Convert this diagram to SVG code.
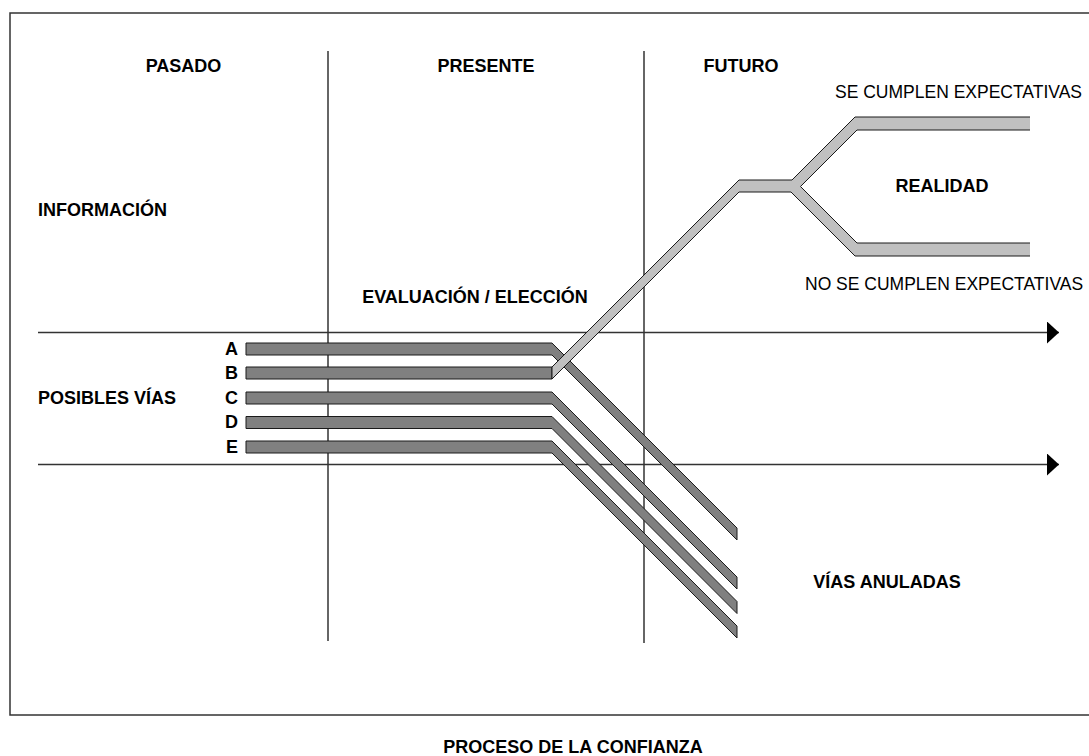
<svg xmlns="http://www.w3.org/2000/svg" width="1089" height="756" viewBox="0 0 1089 756">
<defs>
<style>
.b{font-family:"Liberation Sans",Arial,sans-serif;font-weight:bold;font-size:18px;fill:#000}
.r{font-family:"Liberation Sans",Arial,sans-serif;font-size:17.5px;fill:#000}
.ln{stroke:#333;stroke-width:1.5;fill:none}
.dk{fill:#808080;stroke:#1a1a1a;stroke-width:1}
.lt{fill:#c0c0c0;stroke:none}
.ltl{fill:none;stroke:#1a1a1a;stroke-width:1}
</style>
<marker id="ah" viewBox="0 0 12 22" refX="12" refY="11" markerWidth="12" markerHeight="22" markerUnits="userSpaceOnUse" orient="auto">
<path d="M0,0 L12,11 L0,22 Z" fill="#000"/>
</marker>
</defs>
<rect x="0" y="0" width="1089" height="756" fill="#fff"/>
<rect x="10" y="13" width="1100" height="702" fill="none" stroke="#333" stroke-width="1.5"/>
<g id="connectors">
<line class="ln" x1="328" y1="51" x2="328" y2="641"/>
<line class="ln" x1="644" y1="51" x2="644" y2="643"/>
<line class="ln" x1="38" y1="332.5" x2="1059" y2="332.5" marker-end="url(#ah)"/>
<line class="ln" x1="38" y1="464.5" x2="1059" y2="464.5" marker-end="url(#ah)"/>
</g>
<g id="via-a"><polygon class="dk" points="246,343 552,343 737,528 737,540 552,355 246,355"/></g>
<g id="via-b"><polygon class="dk" points="246,367 552,367 552,379 246,379"/></g>
<g id="via-c"><polygon class="dk" points="246,392 552,392 737,577 737,589 552,404 246,404"/></g>
<g id="via-d"><polygon class="dk" points="246,416.5 552,416.5 737,601.5 737,613.5 552,428.5 246,428.5"/></g>
<g id="via-e"><polygon class="dk" points="246,441 552,441 737,626 737,638 552,453 246,453"/></g>
<g id="realidad-path">
<polygon class="lt" points="552,367 739,180 792,180 855,117 1030,117 1030,130 857,130 800.5,186.5 857,243 1030,243 1030,256 855,256 791,192 739,192 552,379"/>
<path class="ltl" d="M1030,117 L855,117 L792,180 L739,180 L552,367 L552,379 L739,192 L791,192 L855,256 L1030,256 M1030,130 L857,130 L800.5,186.5 L857,243 L1030,243"/>
</g>
<g id="labels">
<text class="b" x="183.5" y="72" text-anchor="middle">PASADO</text>
<text class="b" x="486" y="72" text-anchor="middle">PRESENTE</text>
<text class="b" x="741" y="72" text-anchor="middle">FUTURO</text>
<text class="r" x="835" y="98">SE CUMPLEN EXPECTATIVAS</text>
<text class="b" x="942" y="192" text-anchor="middle">REALIDAD</text>
<text class="b" x="38" y="216">INFORMACIÓN</text>
<text class="r" x="805" y="290">NO SE CUMPLEN EXPECTATIVAS</text>
<text class="b" x="475" y="303" text-anchor="middle">EVALUACIÓN / ELECCIÓN</text>
<text class="b" x="38" y="404">POSIBLES VÍAS</text>
<text class="b" x="238" y="355" text-anchor="end">A</text>
<text class="b" x="238" y="379" text-anchor="end">B</text>
<text class="b" x="238" y="404" text-anchor="end">C</text>
<text class="b" x="238" y="428" text-anchor="end">D</text>
<text class="b" x="238" y="453" text-anchor="end">E</text>
<text class="b" x="887" y="588" text-anchor="middle">VÍAS ANULADAS</text>
<text class="b" x="573" y="753" text-anchor="middle">PROCESO DE LA CONFIANZA</text>
</g>
</svg>
